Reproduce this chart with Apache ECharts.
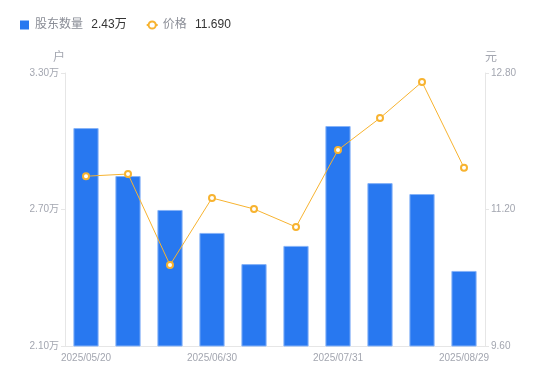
<!DOCTYPE html>
<html><head><meta charset="utf-8">
<script src="https://cdn.jsdelivr.net/npm/echarts@6/dist/echarts.min.js"></script>
<style>html,body{margin:0;padding:0;background:#fff}#c{width:550px;height:381px}</style>
</head><body><div id="c"></div>
<script>
const categories = ['2025/05/20','2025/05/30','2025/06/20','2025/06/30','2025/07/10','2025/07/20','2025/07/31','2025/08/10','2025/08/20','2025/08/29'];
const holders = [3.058, 2.847, 2.698, 2.597, 2.460, 2.540, 3.067, 2.816, 2.768, 2.430];
const prices = [11.59, 11.616, 10.549, 11.335, 11.206, 10.995, 11.897, 12.272, 12.695, 11.690];
const leftTicks = [2.1, 2.7, 3.3];
const rightTicks = [9.6, 11.2, 12.8];
const latest = {'股东数量': holders[holders.length-1].toFixed(2) + '万', '价格': prices[prices.length-1].toFixed(3)};

const FONT = '"Liberation Sans", Arial, "Noto Sans CJK SC", sans-serif';
const chart = echarts.init(document.getElementById('c'));
chart.setOption({
  animation: false,
  textStyle: {fontFamily: FONT},
  legend: {
    left: 15, top: 14, itemWidth: 11, itemHeight: 9, itemGap: 19,
    textStyle: {fontFamily: FONT, fontSize: 12, color: '#8a8d96',
      rich: {v: {color: '#333', fontSize: 12, fontFamily: FONT, padding: [0,0,0,5]}}},
    formatter: n => n + ' {v|' + latest[n] + '}',
    data: [
      {name: '股东数量', icon: 'path://M0 0H10V10H0Z', itemStyle: {borderWidth: 0, color: '#2878f0'}},
      {name: '价格'}
    ]
  },
  grid: {left: 65, right: 65, top: 73, bottom: 35},
  xAxis: {
    type: 'category', data: categories,
    axisLine: {lineStyle: {color: '#e6e6e6'}},
    axisTick: {show: false},
    axisLabel: {color: '#a3a6b0', fontSize: 10, interval: 2, fontFamily: FONT, margin: 7}
  },
  yAxis: [{
    type: 'value', min: 2.1, max: 3.3, name: '户', nameGap: 9,
    nameTextStyle: {color: '#a3a6b0', fontSize: 12, align: 'right', fontFamily: FONT},
    axisLine: {show: true, lineStyle: {color: '#e6e6e6'}},
    axisTick: {show: true, length: 4, customValues: leftTicks, lineStyle: {color: '#e6e6e6'}},
    splitLine: {show: false},
    axisLabel: {color: '#a3a6b0', fontSize: 10, customValues: leftTicks, margin: 6, fontFamily: FONT,
      formatter: v => v.toFixed(2) + '万'}
  }, {
    type: 'value', min: 9.6, max: 12.8, interval: 1.6, name: '元', nameGap: 9,
    nameTextStyle: {color: '#a3a6b0', fontSize: 12, align: 'left', fontFamily: FONT},
    axisLine: {show: true, lineStyle: {color: '#e6e6e6'}},
    axisTick: {show: true, length: 4, lineStyle: {color: '#e6e6e6'}},
    splitLine: {show: false},
    axisLabel: {color: '#a3a6b0', fontSize: 10, margin: 6, fontFamily: FONT, formatter: v => v.toFixed(2)}
  }],
  series: [{
    name: '股东数量', type: 'bar', data: holders, barWidth: '60%',
    itemStyle: {color: '#2878f0', borderColor: '#86b3f8', borderWidth: 1}
  }, {
    name: '价格', type: 'line', yAxisIndex: 1, data: prices,
    symbol: 'emptyCircle', symbolSize: 6,
    lineStyle: {width: 1, color: '#f7b330'},
    itemStyle: {color: '#f7b330', borderWidth: 2}
  }]
});
</script></body></html>
